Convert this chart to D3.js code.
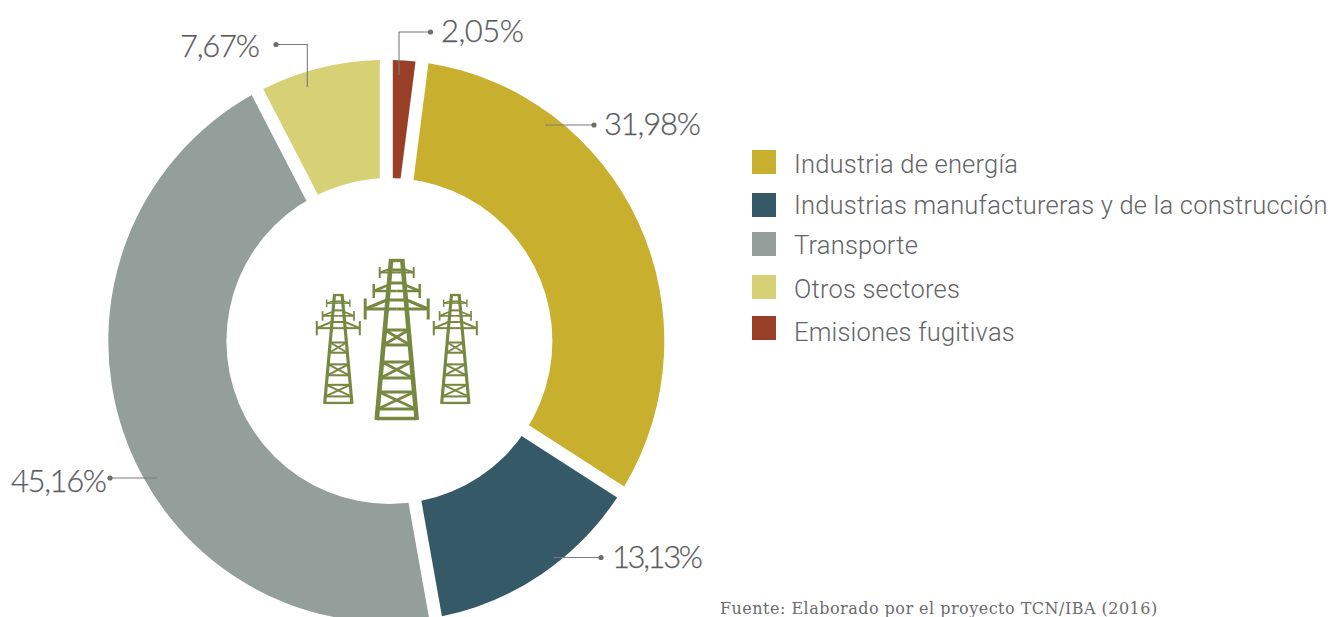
<!DOCTYPE html>
<html>
<head>
<meta charset="utf-8">
<script src="https://cdn.jsdelivr.net/npm/d3@7"></script>
<style>
  html, body { margin: 0; padding: 0; background: #fff; }
  svg { display: block; }
  .pct { font-family: Lato, sans-serif; font-weight: 300; font-size: 31px; fill: #5a5b5e; stroke: #5a5b5e; stroke-width: 0.25px; }
  .leg { font-family: Roboto, sans-serif; font-weight: 300; font-size: 25.5px; letter-spacing: 0.2px; fill: #626366; }
  .src { font-family: "DejaVu Serif", serif; font-size: 16px; letter-spacing: 0.48px; fill: #6a6b6e; }
</style>
</head>
<body>
<div id="chart"></div>
<script>
// slices, clockwise from 12 o'clock
var categories = ["Emisiones fugitivas", "Industria de energía", "Industrias manufactureras y de la construcción", "Transporte", "Otros sectores"];
var values = [2.05, 31.98, 13.13, 45.16, 7.67];
var colors = ["#993f27", "#c8b02e", "#365968", "#949e9a", "#d7d176"];

// legend runs in a different order than the slices
var legendOrder = ["Industria de energía", "Industrias manufactureras y de la construcción", "Transporte", "Otros sectores", "Emisiones fugitivas"];
var legendTop = [150, 193, 232, 275, 316];
var legendBase = [23, 21, 22, 23, 25];

var width = 1331, height = 617;
// the ring in the picture is a bit taller than wide and its hole sits off centre
var cx = 386.3, cy = 341, outerR = 278, squash = 281 / 278, gap = 13;
var holeX = 389.4, holeR = 163;

var svg = d3.select("#chart").append("svg")
  .attr("width", width)
  .attr("height", height)
  .attr("viewBox", "0 0 " + width + " " + height);

var color = d3.scaleOrdinal().domain(categories).range(colors);
var pctFormat = d3.formatLocale({ decimal: ",", thousands: ".", grouping: [3], currency: ["", ""] }).format(".2f");

var pie = d3.pie().sort(null).value(function(d) { return d.value; });
var arc = d3.arc()
  .innerRadius(140)
  .outerRadius(outerR)
  .padRadius(outerR)
  .padAngle(gap / outerR);

var slices = categories.map(function(c, i) { return { name: c, value: values[i] }; });

svg.append("g")
  .attr("transform", "translate(" + cx + "," + cy + ") scale(1," + squash + ")")
  .selectAll("path")
  .data(pie(slices)).enter()
  .append("path")
  .attr("d", arc)
  .attr("fill", function(d) { return color(d.data.name); });

svg.append("circle")
  .attr("cx", holeX)
  .attr("cy", cy)
  .attr("r", holeR)
  .attr("fill", "#fff");

// leader lines + labels, same order as the slices
var leaders = [
  { pts: [[399, 75], [399, 32], [430.5, 32]], tx: 441, ty: 42, w: 83 },
  { pts: [[545, 125], [594, 125]], tx: 604, ty: 135, w: 97 },
  { pts: [[554, 557.5], [601, 557.5]], tx: 612, ty: 568, w: 91 },
  { pts: [[157, 478], [110, 478]], tx: 11, ty: 492, w: 96 },
  { pts: [[307.3, 87], [307.3, 44.5], [276, 44.5]], tx: 180, ty: 57, w: 80 }
];

var line = d3.line();
var lab = svg.append("g");
leaders.forEach(function(l, i) {
  lab.append("path")
    .attr("d", line(l.pts))
    .attr("fill", "none")
    .attr("stroke", "#7a7b7b")
    .attr("stroke-width", 1.1);
  var end = l.pts[l.pts.length - 1];
  lab.append("circle")
    .attr("cx", end[0])
    .attr("cy", end[1])
    .attr("r", 2.6)
    .attr("fill", "#6d6e6e");
  lab.append("text")
    .attr("class", "pct")
    .attr("x", l.tx)
    .attr("y", l.ty)
    .attr("textLength", l.w)
    .text(pctFormat(values[i]) + "%");
});

// legend
var legend = svg.append("g").selectAll("g")
  .data(legendOrder).enter()
  .append("g")
  .attr("transform", function(d, i) { return "translate(752," + legendTop[i] + ")"; });

legend.append("rect")
  .attr("width", 24)
  .attr("height", 24)
  .attr("fill", function(d) { return color(d); });

legend.append("text")
  .attr("class", "leg")
  .attr("x", 42)
  .attr("y", function(d, i) { return legendBase[i]; })
  .text(function(d) { return d; });

svg.append("text")
  .attr("class", "src")
  .attr("x", 720)
  .attr("y", 614)
  .text("Fuente: Elaborado por el proyecto TCN/IBA (2016)");

// pylon icon, drawn at size of the big tower and scaled for the small ones
function drawTower(x, y, k) {
  var g = svg.append("g")
    .attr("transform", "translate(" + x + "," + y + ") scale(" + k + ")")
    .attr("fill", "none")
    .attr("stroke", "#778840");

  function legX(t) { return 5.5 + (t / 161) * 14.5; }
  function seg(pts, w) {
    g.append("path").attr("d", line(pts)).attr("stroke-width", w);
  }

  // legs
  seg([[-legX(0), 0], [-legX(161), 161]], 4.6);
  seg([[legX(0), 0], [legX(161), 161]], 4.6);

  // horizontal bars
  [1.5, 11, 24, 41, 71, 86, 103, 119, 133, 150, 159.5].forEach(function(t) {
    seg([[-legX(t), t], [legX(t), t]], t > 155 || t < 3 ? 3.4 : 3);
  });

  // cross bracing
  [[71, 86], [103, 119], [133, 150]].forEach(function(b) {
    seg([[-legX(b[0]), b[0]], [legX(b[1]), b[1]]], 2.8);
    seg([[legX(b[0]), b[0]], [-legX(b[1]), b[1]]], 2.8);
  });

  // arms: half span, y of arm, tick half height, rise towards the tower
  [[17, 13.5, 5.5, 3.5], [23, 32, 7, 6], [31.5, 50, 10.5, 9]].forEach(function(a, i) {
    var w = 2 + i * 0.5;
    [-1, 1].forEach(function(s) {
      seg([[s * a[0], a[1]], [0, a[1]]], w);
      seg([[s * a[0], a[1]], [s * legX(a[1]), a[1] - a[3]]], w);
      seg([[s * a[0], a[1] - a[2]], [s * a[0], a[1] + a[2]]], w);
    });
  });
}

drawTower(396.7, 259, 1);
drawTower(338.3, 294, 0.683);
drawTower(455.3, 294, 0.683);
</script>
</body>
</html>
